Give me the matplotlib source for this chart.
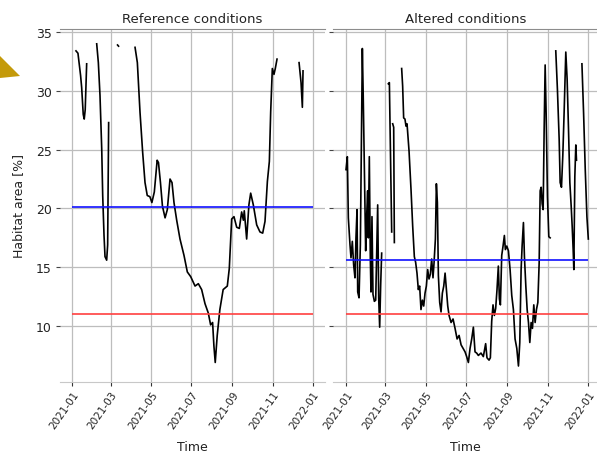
import numpy as np
import matplotlib
matplotlib.use("Agg")
import matplotlib.pyplot as plt
import matplotlib.dates as mdates
from matplotlib.patches import Polygon
from datetime import datetime

plt.rcParams['font.family'] = ['DejaVu Sans']

# day of year 2021 (0 = 2021-01-01) and habitat area [%]; nan = gap in the series
ref_day = [6, 9, 13, 14.6, 17, 18.5, 20, 22.2, np.nan,
           37.4, 39.9, 42.4, 45, 46.5, 48.5, 50, 52.5, 54, 55.5, np.nan,
           69, 70.5, np.nan,
           95.5, 99, 103, 107, 110.6, 114, 118, 121, 124.7, 129, 131, 134, 137, 141,
           144.4, 148.5, 151.5, 154.5, 158.6, 163.6, 169.7, 174.7, 179.8, 186.4,
           191.4, 196.4, 201.5, 206.5, 210, 213, 215, 217, 220, 224, 229, 235.3,
           238.3, 241.9, 245.4, 249.5, 253.5, 257, 259.6, 261, 264.6, 268, 270.7,
           274.7, 279.8, 284.8, 288.9, 292.4, 296, 299, 301, 303.5, 306, 308, 310.6, np.nan,
           344, 347, 349, 350]
ref_val = [33.4, 33.2, 31.3, 30.3, 28.0, 27.6, 28.4, 32.3, np.nan,
           34.0, 32.4, 29.6, 25.1, 21.1, 17.7, 15.9, 15.6, 16.9, 27.3, np.nan,
           33.9, 33.8, np.nan,
           33.7, 32.4, 28.2, 24.8, 22.2, 21.1, 21.0, 20.5, 21.4, 24.1, 23.9, 22.2, 20.2, 19.2,
           19.9, 22.5, 22.2, 20.5, 19.0, 17.4, 16.0, 14.6, 14.2, 13.4,
           13.6, 13.1, 11.9, 11.1, 10.1, 10.3, 8.3, 6.9, 9.2, 11.4, 13.1, 13.4,
           14.9, 19.1, 19.3, 18.4, 18.3, 19.7, 19.0, 19.8, 17.4, 20.3, 21.3,
           20.3, 18.6, 18.0, 17.9, 18.9, 22.3, 24.0, 28.2, 31.9, 31.4, 31.9, 32.7, np.nan,
           32.4, 30.7, 28.6, 31.7]

alt_day = [0, 2, 3.5, 6, 7.5, 9.5, 11.5, 13.5, 15, 16.6, 17.6, 19.6, 21.6, 23, 24.6, 26,
           28, 29.6, 31, 32.6, 33.6, 35.1, 36.6, 37.6, 39.1, 40.6, 42.7, 44.7, 46.2,
           47.7, 49.2, 50.7, 52.2, 53.7, np.nan,
           63.7, 65.3, 66.8, 68.8, np.nan,
           70.3, 71.8, 72.8, np.nan,
           83.8, 85.3, 86.8, 88.8, 90.3, 91.9, 94.9, 97.9, 100.4, 102.9, 104.9, 106.9,
           108.9, 110.9, 112.9, 115, 117, 119, 121, 123, 125, 127, 129, 131, 132.6,
           134.6, 136.1, 137.6, 139.1, 141.1, 143.1, 145.1, 147.2, 149.2, 151.2, 153.2,
           155.2, 158.2, 161.2, 164.2, 167.3, 170.3, 173.3, 176.3, 179.3, 181.7, 184.3,
           186.8, 189.3, 191.8, 194.3, 196.8, 199.3, 203.3, 206.8, 210.3, 212.3, 215.4,
           217.4, 219.4, 221.4, 223.4, 225.4, 227.4, 229.4, 231, 232.5, 234.5, 236.5,
           238.5, 240, 242.1, 244.6, 247.1, 249.6, 252.1, 254.6, 257.2, 259.7, 261.7,
           263.7, 265.2, 267.2, 268.7, 270.8, 272.8, 274.8, 276.8, 278.8, 280.8, 282.8,
           284.8, 286.8, 288.9, 290.9, 292.4, 293.9, 295.4, 296.9, 298.4, 299.9, 301.4,
           303.4, 305.4, 307.4, np.nan,
           315.9, 318.4, 321, 322.5, 324.5, 326.5, 328.5, 331, 333, 335.1, 337.1, 339.1,
           340.6, 342.1, 343.1, 344.6, 346.1, 347.1, np.nan,
           355.3, 357.8, 360.3, 362.8, 364.9]
alt_val = [23.3, 24.4, 19.2, 16.9, 15.8, 17.2, 15.2, 14.1, 17.5, 19.9, 12.9, 12.4, 16.9, 25.0, 33.6, 29.3,
           22.0, 16.4, 19.2, 21.5, 17.5, 24.4, 15.8, 12.9, 19.3, 12.7, 12.1, 12.2, 16.4,
           20.3, 12.4, 9.9, 13.5, 16.2, np.nan,
           30.6, 30.7, 25.4, 18.0, np.nan,
           27.2, 26.9, 17.1, np.nan,
           31.9, 30.4, 27.7, 27.6, 27.0, 27.2, 24.9, 21.6, 18.5, 15.9, 15.4, 14.5,
           13.1, 13.4, 11.4, 12.2, 11.7, 12.8, 13.4, 14.8, 14.0, 14.4, 15.7, 14.1, 15.4,
           17.4, 22.1, 20.5, 14.3, 12.0, 11.2, 12.8, 13.4, 14.5, 13.1, 11.7,
           10.9, 10.3, 10.6, 9.8, 8.9, 9.2, 8.4, 8.1, 7.8, 7.4, 6.9,
           8.1, 8.9, 9.9, 7.8, 7.7, 7.5, 7.7, 7.4, 8.5, 7.3, 7.1,
           7.3, 10.4, 11.8, 10.9, 11.5, 13.1, 15.1, 12.3, 11.8, 16.0, 16.8,
           17.7, 16.5, 16.8, 16.4, 14.8, 12.6, 11.4, 8.9, 8.1, 6.6, 8.6,
           14.8, 16.8, 18.8, 15.9, 13.4, 11.4, 10.3, 8.6, 10.3, 9.8, 11.8,
           10.3, 11.4, 12.0, 15.4, 21.5, 21.8, 20.4, 19.9, 26.7, 32.2, 28.1,
           21.0, 17.6, 17.5, np.nan,
           33.4, 30.1, 25.9, 22.2, 21.8, 24.5, 28.2, 33.3, 31.0, 26.7, 22.2, 20.2,
           18.5, 16.5, 14.8, 22.7, 25.4, 24.1, np.nan,
           32.3, 28.1, 23.3, 19.3, 17.4]

# thresholds (blue, red) per panel
ref_thresholds = [20.1, 11.0]
alt_thresholds = [15.65, 11.0]
titles = ["Reference conditions", "Altered conditions"]
tick_dates = [datetime(2021, m, 1) for m in (1, 3, 5, 7, 9, 11)] + [datetime(2022, 1, 1)]

t0 = mdates.date2num(datetime(2021, 1, 1))
t1 = mdates.date2num(datetime(2022, 1, 1))

W, H = 597, 456
fig = plt.figure(figsize=(W / 100, H / 100), dpi=100)

bot = 73 / H
hgt = 353 / H
ax1 = fig.add_axes([60 / W, bot, 265 / W, hgt])
ax2 = fig.add_axes([333 / W, bot, 265 / W, hgt])

panels = [(ax1, ref_day, ref_val, ref_thresholds, (-18.2, 383.3)),
          (ax2, alt_day, alt_val, alt_thresholds, (-19.6, 379.5))]

for i, (ax, d, v, thr, xl) in enumerate(panels):
    x = t0 + np.array(d, dtype=float)
    ax.plot(x, v, color='black', lw=1.2, zorder=3)
    ax.hlines(thr[0], t0, t1, color='#1010ff', lw=1.2, zorder=4)
    ax.hlines(thr[1], t0, t1, color='#ff4040', lw=1.2, zorder=4)
    ax.set_xlim(t0 + xl[0], t0 + xl[1])
    ax.set_ylim(5.24, 35.26)
    ax.set_yticks([10, 15, 20, 25, 30, 35])
    ax.set_xticks(mdates.date2num(tick_dates))
    ax.xaxis.set_major_formatter(mdates.DateFormatter('%Y-%m'))
    ax.grid(True, color='#bdbdbd', lw=0.9)
    ax.set_axisbelow(True)
    for s in ('left', 'right'):
        ax.spines[s].set_visible(False)
    ax.spines['top'].set_color('#8c8c8c')
    ax.spines['bottom'].set_color('#c8c8c8')
    ax.tick_params(axis='x', length=3, color='#333333', labelsize=7.5, pad=2,
                   labelcolor='#222222')
    ax.tick_params(axis='y', length=3, color='#444444', labelsize=9, pad=3,
                   labelcolor='#222222')
    for lab in ax.get_xticklabels():
        lab.set_rotation(55)
        lab.set_ha('right')
        lab.set_va('top')
        lab.set_rotation_mode('anchor')
    ax.set_title(titles[i], fontsize=9.5, pad=5, color='#222222')
    ax.set_xlabel('Time', fontsize=9, color='#222222', va='center')
    ax.xaxis.set_label_coords(0.5, -(448 - 383) / 353)

ax2.tick_params(axis='y', labelleft=False)
ax1.set_ylabel('Habitat area [%]', fontsize=9, labelpad=8, color='#222222')

# gold marker at the left edge
fig.patches.append(Polygon([(0, 1 - 57 / H), (20 / W, 1 - 77 / H), (0, 1 - 79 / H)],
                           closed=True, transform=fig.transFigure,
                           facecolor='#c49a0a', edgecolor='none'))

fig.savefig('out.png', dpi=100)
